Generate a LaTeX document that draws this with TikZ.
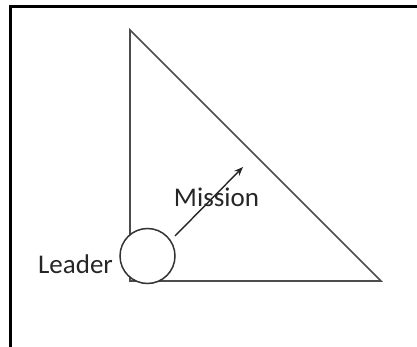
\documentclass[tikz,border=0pt]{standalone}
\usepackage{fontspec}
\setmainfont{Carlito}
\usetikzlibrary{arrows.meta}
\begin{document}
\begin{tikzpicture}[x=1pt,y=-1pt,
  frame/.style={line width=3pt,black},
  tri/.style={line width=1.6pt,black!70},
  lbl/.style={anchor=base,inner sep=0pt,text=black!85,font=\fontsize{27}{32}\selectfont},
  leader/.style={circle,draw=black!80,line width=1.5pt,fill=white,minimum size=55pt,inner sep=0pt},
  arr/.style={line width=1.4pt,black!85,-{Stealth[length=9pt,width=7pt]}}]
\useasboundingbox (0,0) rectangle (417,347);
\fill[white] (0,0) rectangle (417,347);
% frame
\coordinate (F1) at (10.5,347);
\coordinate (F2) at (10.5,7);
\coordinate (F3) at (417,7);
\draw[frame] (F1) -- (F2) -- (F3);
% triangle
\coordinate (T) at (130,30);
\coordinate (B) at (130,281);
\coordinate (R) at (381,281);
\draw[tri] (T) -- (B) -- (R) -- cycle;
% leader circle
\node[leader] (L) at (147.5,256) {};
% arrow
\coordinate (A0) at (175,236);
\coordinate (A1) at (243,167);
\draw[arr] (A0) -- (A1);
% labels
\node[lbl] (mission) at (216.5,207) {Mission};
\node[lbl] (leaderlbl) at (75.5,273) {Leader};
\end{tikzpicture}
\end{document}
